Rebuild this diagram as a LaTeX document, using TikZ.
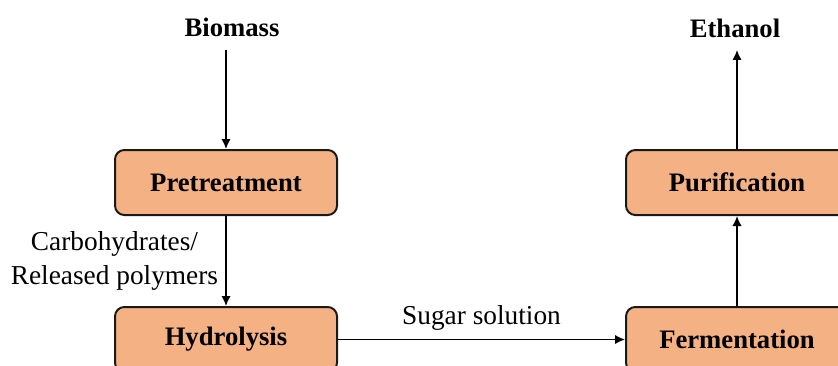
\documentclass[tikz,border=0pt]{standalone}
\usepackage{fontspec}
\setmainfont{Liberation Serif}
\usetikzlibrary{arrows.meta}

\definecolor{boxfill}{HTML}{F4B183}
\tikzset{
  stage/.style={draw=black!90, line width=1.5pt, fill=boxfill, rounded corners=7pt,
    minimum width=166.5pt, minimum height=48.75pt, inner sep=0pt,
    font=\fontsize{20}{24}\selectfont\bfseries},
  ends/.style={font=\fontsize{20}{24}\selectfont\bfseries, inner sep=2pt},
  flow/.style={->, line width=1.2pt},
  lbl/.style={font=\fontsize{20.5}{26}\selectfont, align=center}
}

\begin{document}
\begin{tikzpicture}[>={Latex[length=7.5pt,width=7pt]}, x=0.75pt, y=0.75pt]
  \useasboundingbox (0,0) rectangle (838,365);
  \node[ends] (bio) at (232,338) {Biomass};
  \node[ends] (eth) at (735,337) {Ethanol};
  \node[stage] (pre) at (226,182.5) {Pretreatment};
  \node[stage] (hyd) at (226,25.5) {Hydrolysis};
  \node[stage] (pur) at (737,182.5) {Purification};
  \node[stage] (fer) at (737,25.5) {Fermentation};
  \coordinate (bioend) at (226,315);
  \coordinate (ethend) at (737,315);
  \draw [flow] (bioend) -- (pre.north);
  \draw [flow] (pre) -- (hyd) node[lbl, pos=0.5, left=2pt]{Carbohydrates/\\Released polymers};
  \draw [flow] (hyd.east) -- (hyd.east -| fer.west) node[lbl, midway, above=3pt]{Sugar solution};
  \draw [flow] (fer) -- (pur);
  \draw [flow] (pur) -- (ethend);
\end{tikzpicture}
\end{document}
